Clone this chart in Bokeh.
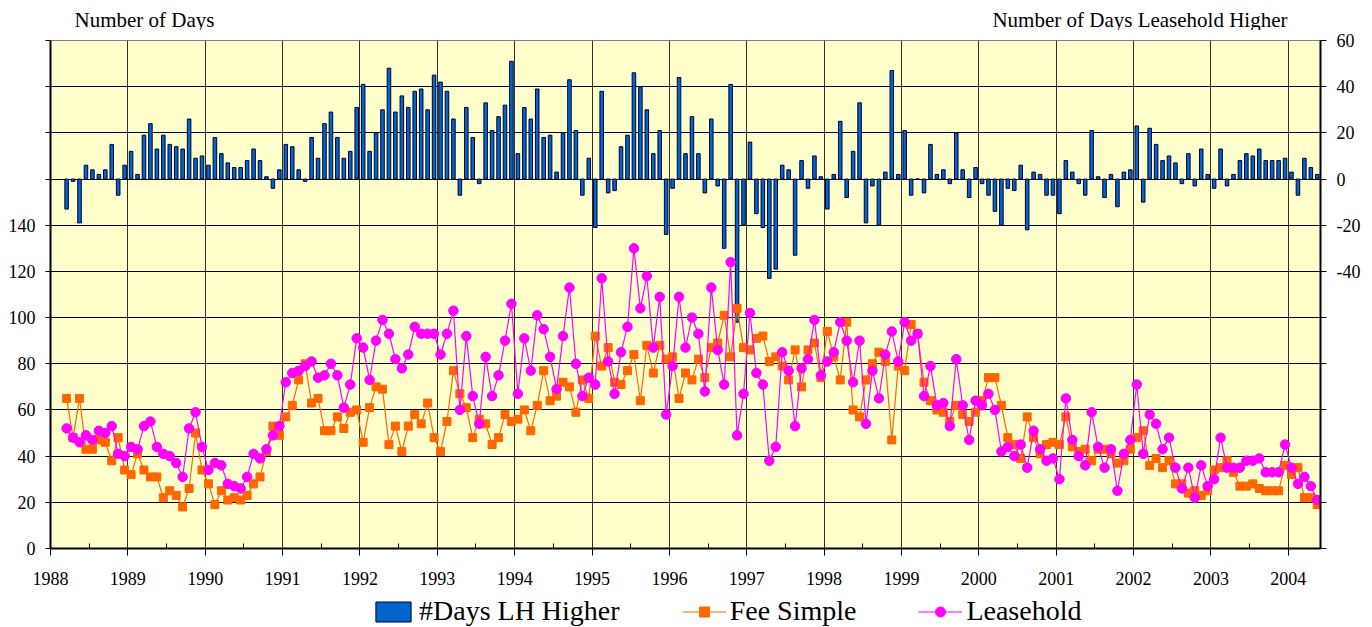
from bokeh.plotting import figure
from bokeh.models import (Range1d, LinearAxis, FixedTicker, Legend, LegendItem)
from bokeh.core.properties import value
from bokeh.layouts import column
from bokeh.embed import file_html
from bokeh.resources import INLINE

# ---------------- data (monthly, March 1988 .. May 2004) ----------------
first_month = 2  # index of March 1988, counting months from Jan 1988
years = [str(y) for y in range(1988, 2005)]
left_title = "Number of Days"
right_title = "Number of Days Leasehold Higher"
series_names = ["#Days LH Higher", "Fee Simple", "Leasehold"]

lh_higher = [
    -13, -1, -19, 6, 4, 2, 4, 15, -7, 6,                      # 1988 (Mar-Dec)
    12, 2, 19, 24, 13, 19, 15, 14, 13, 26, 9, 10,             # 1989
    6, 18, 11, 7, 5, 5, 8, 13, 8, 1, -4, 4,                   # 1990
    15, 14, 4, -1, 18, 9, 24, 29, 18, 9, 12, 31,              # 1991
    41, 12, 20, 30, 48, 29, 36, 31, 38, 39, 30, 45,           # 1992
    42, 38, 26, -7, 31, 18, -2, 33, 21, 27, 32, 51,           # 1993
    11, 31, 26, 39, 18, 19, 3, 20, 43, 21, -7, 9,             # 1994
    -21, 38, -6, -5, 14, 19, 46, 40, 30, 11, 21, -24,         # 1995
    -4, 44, 11, 27, 11, -6, 26, -3, -30, 41, -62, -20,        # 1996
    16, -15, -21, -43, -39, 6, 4, -33, 8, -4, 10, 1,          # 1997
    -13, 2, 25, -8, 12, 33, -19, -3, -20, 3, 47, 2,           # 1998
    21, -7, 0, -6, 15, 2, 4, -2, 20, 4, -8, 5,                # 1999
    -2, -7, -14, -20, -4, -5, 6, -22, 3, 2, -7, -7,           # 2000
    -15, 8, 3, -2, -7, 21, 1, -8, 2, -12, 3, 4,               # 2001
    23, -10, 22, 15, 8, 10, 7, -2, 11, -3, 13, 2,             # 2002
    -4, 13, -3, 2, 8, 11, 10, 13, 8, 8, 8, 9,                 # 2003
    3, -7, 9, 5, 2,                                           # 2004 (Jan-May)
]

fee_simple = [
    65, 48, 65, 43, 43, 47, 46, 38, 48, 34,
    32, 41, 34, 31, 31, 22, 25, 23, 18, 26, 50, 34,
    28, 19, 25, 21, 22, 21, 23, 28, 31, 42, 53, 49,
    57, 62, 73, 80, 63, 65, 51, 51, 57, 52, 59, 60,
    46, 61, 70, 69, 45, 53, 42, 53, 58, 54, 63, 48,
    42, 55, 77, 67, 61, 48, 56, 54, 45, 48, 58, 55,
    56, 60, 51, 62, 77, 64, 66, 72, 70, 59, 73, 65,
    92, 79, 87, 72, 71, 77, 84, 64, 88, 76, 88, 82,
    83, 65, 76, 73, 82, 74, 87, 89, 101, 83, 104, 87,
    86, 91, 92, 81, 83, 79, 73, 86, 70, 86, 89, 74,
    94, 83, 73, 98, 60, 57, 73, 80, 85, 81, 47, 79,
    77, 97, 93, 72, 64, 60, 59, 55, 62, 58, 55, 59,
    64, 74, 74, 62, 48, 45, 39, 57, 48, 41, 45, 46,
    45, 57, 44, 42, 43, 38, 43, 43, 41, 37, 38, 43,
    48, 51, 36, 39, 35, 38, 28, 28, 24, 25, 23, 25,
    34, 35, 38, 33, 27, 27, 28, 26, 25, 25, 25, 36,
    32, 35, 22, 22, 19,
]

leasehold = [
    52, 48, 46, 49, 47, 51, 50, 53, 41, 40,
    44, 43, 53, 55, 44, 41, 40, 37, 31, 52, 59, 44,
    34, 37, 36, 28, 27, 26, 31, 41, 39, 43, 49, 53,
    72, 76, 77, 79, 81, 74, 75, 80, 75, 61, 71, 91,
    87, 73, 90, 99, 93, 82, 78, 84, 96, 93, 93, 93,
    84, 93, 103, 60, 92, 66, 54, 83, 66, 75, 90, 106,
    67, 91, 77, 101, 95, 83, 69, 92, 113, 80, 66, 74,
    71, 117, 81, 67, 85, 96, 130, 104, 118, 87, 109, 58,
    79, 109, 87, 100, 93, 68, 113, 86, 71, 124, 49, 67,
    102, 76, 71, 38, 44, 85, 77, 53, 78, 82, 99, 75,
    81, 85, 98, 90, 72, 90, 54, 77, 65, 84, 94, 81,
    98, 90, 93, 66, 79, 62, 63, 53, 82, 62, 47, 64,
    62, 67, 60, 42, 44, 40, 45, 35, 51, 43, 38, 39,
    30, 65, 47, 40, 36, 59, 44, 35, 43, 25, 41, 47,
    71, 41, 58, 54, 43, 48, 35, 26, 35, 22, 36, 27,
    30, 48, 35, 35, 35, 38, 38, 39, 33, 33, 33, 45,
    35, 28, 31, 27, 21,
]

# month positions (centre of each month slot)
xs = [first_month + k + 0.5 for k in range(len(lh_higher))]
n_months = first_month + len(lh_higher)

FONT = "Liberation Serif"
W = 1372
FRAME_L, FRAME_R = 50, 1320          # plot-area edges in page pixels
BAR_FILL, BAR_LINE = "#0066CC", "#000033"
FS_COL, LH_COL = "#FF6600", "#FF00FF"

# ---------------- top strip with the two axis titles ----------------
# (frames in a column are aligned, so this strip's x range is page pixels)
top = figure(width=W, height=30, x_range=Range1d(FRAME_L, FRAME_R),
             y_range=Range1d(0, 30),
             output_backend="svg", toolbar_location=None,
             x_axis_location=None, y_axis_location=None,
             min_border_left=FRAME_L, min_border_right=W - FRAME_R,
             min_border_top=0, min_border_bottom=0, outline_line_color=None)
top.grid.visible = False
top.text(x=[74], y=[11], text=[left_title], text_font=value(FONT),
         text_font_size=value("21px"), text_align="left",
         text_baseline="middle", text_color="black")
top.text(x=[1287], y=[11], text=[right_title], text_font=value(FONT),
         text_font_size=value("21px"), text_align="right",
         text_baseline="middle", text_color="black")

# ---------------- main chart ----------------
p = figure(width=W, height=562,
           x_range=Range1d(0, n_months), y_range=Range1d(0, 220),
           output_backend="svg", toolbar_location=None,
           min_border_left=FRAME_L, min_border_right=W - FRAME_R,
           min_border_top=10, min_border_bottom=44,
           background_fill_color="#FFFFCC", border_fill_color="white")
p.outline_line_color = "#808080"
p.extra_y_ranges = {"bars": Range1d(-160, 60)}

# x axis (years)
year_ticks = [12 * k for k in range(len(years))]
xa = p.xaxis[0]
xa.ticker = FixedTicker(ticks=year_ticks,
                        minor_ticks=[12 * k + 6 for k in range(len(years) - 1)])
xa.major_label_overrides = {t: lab for t, lab in zip(year_ticks, years)}
xa.major_tick_out = 7
xa.major_tick_in = 0
xa.minor_tick_in = 5
xa.minor_tick_out = 0
xa.axis_line_width = 2
xa.axis_line_color = "black"
xa.major_label_standoff = 16
xa.major_label_text_font = FONT
xa.major_label_text_font_size = "18px"
xa.major_label_text_color = "black"

# left axis
left_ticks = list(range(0, 221, 20))
ya = p.yaxis[0]
ya.ticker = FixedTicker(ticks=left_ticks)
ya.major_label_overrides = {t: ("" if t > 140 else str(t)) for t in left_ticks}
ya.major_tick_out = 5
ya.major_tick_in = 0
ya.minor_tick_out = 0
ya.minor_tick_in = 0
ya.axis_line_width = 2
ya.axis_line_color = "black"
ya.major_label_standoff = 10
ya.major_label_text_font = FONT
ya.major_label_text_font_size = "18px"
ya.major_label_text_color = "black"

# right axis (bars)
right_ticks = list(range(-160, 61, 20))
ra = LinearAxis(y_range_name="bars", ticker=FixedTicker(ticks=right_ticks))
ra.major_label_overrides = {t: ("" if t < -40 else str(t)) for t in right_ticks}
ra.major_tick_out = 6
ra.major_tick_in = 0
ra.minor_tick_out = 0
ra.minor_tick_in = 0
ra.axis_line_width = 2
ra.axis_line_color = "black"
ra.major_label_standoff = 10
ra.major_label_text_font = FONT
ra.major_label_text_font_size = "18px"
ra.major_label_text_color = "black"
p.add_layout(ra, "right")

# grids
p.xgrid.ticker = FixedTicker(ticks=year_ticks)
p.xgrid.grid_line_color = "#303030"
p.xgrid.grid_line_width = 1
p.ygrid.ticker = FixedTicker(ticks=left_ticks)
p.ygrid.grid_line_color = "black"
p.ygrid.grid_line_width = 1

# series
p.vbar(x=xs, top=lh_higher, bottom=0, width=0.55, y_range_name="bars",
       fill_color=BAR_FILL, line_color=BAR_LINE, line_width=1)
p.line(xs, fee_simple, line_color=FS_COL, line_width=1.2)
p.scatter(xs, fee_simple, marker="square", size=8,
          fill_color=FS_COL, line_color=FS_COL)
p.line(xs, leasehold, line_color=LH_COL, line_width=1.2)
p.scatter(xs, leasehold, marker="circle", size=9.5,
          fill_color=LH_COL, line_color=LH_COL)

# ---------------- bottom strip with the legend ----------------
# hidden copies of the series give the legend its key glyphs
bot = figure(width=W, height=35, x_range=Range1d(0, n_months), y_range=Range1d(0, 1),
             output_backend="svg", toolbar_location=None,
             x_axis_location=None, y_axis_location=None,
             min_border_left=FRAME_L, min_border_right=W - FRAME_R,
             min_border_top=0, min_border_bottom=0, outline_line_color=None)
bot.grid.visible = False
kb = bot.vbar(x=xs, top=lh_higher, bottom=0, width=0.55, fill_color=BAR_FILL,
              line_color=BAR_LINE, line_width=1)
kfl = bot.line(xs, fee_simple, line_color=FS_COL, line_width=1.2)
kfm = bot.scatter(xs, fee_simple, marker="square", size=8,
                  fill_color=FS_COL, line_color=FS_COL)
kll = bot.line(xs, leasehold, line_color=LH_COL, line_width=1.2)
klm = bot.scatter(xs, leasehold, marker="circle", size=9.5,
                  fill_color=LH_COL, line_color=LH_COL)
for r in (kb, kfl, kfm, kll, klm):
    r.visible = False

legend = Legend(items=[
    LegendItem(label=series_names[0], renderers=[kb]),
    LegendItem(label=series_names[1], renderers=[kfl, kfm]),
    LegendItem(label=series_names[2], renderers=[kll, klm]),
], orientation="horizontal", location=(371 - FRAME_L, 0),
    label_text_font=FONT, label_text_font_size="28px",
    label_text_color="black",
    glyph_width=44, glyph_height=25, spacing=62, padding=0, margin=0,
    label_standoff=4, border_line_color=None, background_fill_alpha=0,
    inactive_fill_alpha=0)
bot.add_layout(legend)

layout = column(top, p, bot, spacing=0)
open("out.html", "w").write(file_html(layout, INLINE))
